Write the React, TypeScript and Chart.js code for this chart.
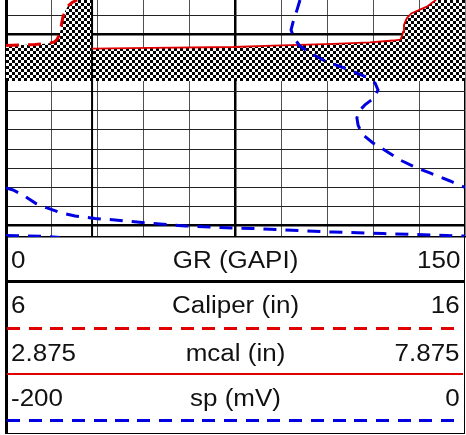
import React, { useEffect, useRef } from 'react';
import { Chart, registerables } from 'chart.js';

Chart.register(...registerables);

// ---------- scales ----------
const DEPTH_TOP = 998.2;
const DEPTH_BOTTOM = 1010.6;
const DEPTH_TICKS = [999, 1000, 1001, 1002, 1003, 1004, 1005, 1006, 1007, 1008, 1009, 1010];
const GR_MIN = 0;
const GR_MAX = 150;
const GR_TICKS = [15, 30, 45, 60, 75, 90, 105, 120, 135, 150];
const CAL_MIN = 6;
const CAL_MAX = 16;
const MCAL_MIN = 2.875;
const MCAL_MAX = 7.875;
const SP_MIN = -200;
const SP_MAX = 0;
const BIT_SIZE = 7.875;
const FILL_BOTTOM_DEPTH = 1002.44;

// ---------- curves ----------
const caliperValues = [6.0, 6.31, 6.63, 6.92, 7.05, 7.11, 7.16, 7.19, 7.21, 7.24, 7.29, 7.35, 7.44, 7.55];
const caliperDepths = [1000.58, 1000.55, 1000.53, 1000.48, 1000.4, 1000.27, 1000.03, 999.77, 999.46, 999.09, 998.78, 998.51, 998.33, 998.2];

const mcalValues = [3.81, 4.44, 5.35, 5.78, 6.44, 6.84, 7.09, 7.17, 7.19, 7.2, 7.21, 7.24, 7.29, 7.39, 7.46, 7.53, 7.56];
const mcalDepths = [1000.74, 1000.71, 1000.66, 1000.59, 1000.5, 1000.42, 1000.32, 1000.27, 1000.08, 999.86, 999.51, 999.16, 998.9, 998.69, 998.55, 998.29, 998.2];

const spValues = [-71.9, -73.2, -74.9, -75.8, -74.5, -71.9, -67.5, -61.0, -51.4, -43.1, -39.2, -37.9, -39.7, -43.6, -46.2, -47.1, -46.6, -44.9, -40.1, -34.4, -28.3, -21.8, -15.3, -6.5, 0];
const spDepths = [998.2, 998.72, 999.35, 999.77, 1000.19, 1000.61, 1000.97, 1001.39, 1001.81, 1002.23, 1002.54, 1002.91, 1003.33, 1003.69, 1004.01, 1004.37, 1004.74, 1005.21, 1005.68, 1006.1, 1006.57, 1006.94, 1007.25, 1007.67, 1008.01];

// sp wrapped onto the backup scale
const spWrap1Values = [-200, -196.9, -192.2, -186.9, -182.1, -176.5, -169.9, -161.2, -152.5, -142.9, -132.9, -122.0, -111.1, -101.1, -92.4, -79.3, -57.5, -35.7, -13.9, 0];
const spWrap1Depths = [1008.04, 1008.14, 1008.43, 1008.85, 1009.08, 1009.32, 1009.5, 1009.63, 1009.71, 1009.82, 1009.92, 1010.02, 1010.08, 1010.13, 1010.15, 1010.23, 1010.34, 1010.42, 1010.5, 1010.55];
const spWrap2Values = [-200, -183.0, -176.5];
const spWrap2Depths = [1010.52, 1010.57, 1010.63];

// ---------- header ----------
const curveNames = ['GR (GAPI)', 'Caliper (in)', 'mcal (in)', 'sp (mV)'];
const scaleLeft = ['0', '6', '2.875', '-200'];
const scaleRight = ['150', '16', '7.875', '0'];

const RED = '#e00000';
const BLUE = '#0000e0';

function pts(xs: number[], ys: number[]) {
  return xs.map((x, i) => ({ x, y: ys[i] }));
}
function toGR(v: number, min: number, max: number) {
  return ((v - min) / (max - min)) * (GR_MAX - GR_MIN) + GR_MIN;
}

function makeChecker(): CanvasPattern | string {
  const c = document.createElement('canvas');
  c.width = 6;
  c.height = 6;
  const g = c.getContext('2d');
  if (!g) return '#888';
  g.fillStyle = '#fff';
  g.fillRect(0, 0, 6, 6);
  g.fillStyle = '#000';
  g.fillRect(0, 0, 3, 3);
  g.fillRect(3, 3, 3, 3);
  const p = g.createPattern(c, 'repeat');
  return p || '#888';
}

export default function App() {
  const ref = useRef<HTMLCanvasElement | null>(null);

  useEffect(() => {
    if (!ref.current) return;
    const bitGR = toGR(BIT_SIZE, CAL_MIN, CAL_MAX);
    const fillPts = [
      { x: GR_MIN, y: FILL_BOTTOM_DEPTH },
      ...caliperValues.map((v, i) => ({ x: toGR(v, CAL_MIN, CAL_MAX), y: caliperDepths[i] })),
      { x: bitGR, y: DEPTH_TOP },
      { x: bitGR, y: mcalDepths[0] },
      ...mcalValues.map((v, i) => ({ x: toGR(v, MCAL_MIN, MCAL_MAX), y: mcalDepths[i] })),
      { x: GR_MAX, y: DEPTH_TOP },
      { x: GR_MAX, y: FILL_BOTTOM_DEPTH },
    ];

    const dashed = [13, 9];
    const chart = new Chart(ref.current, {
      type: 'line',
      data: {
        datasets: [
          {
            data: fillPts,
            xAxisID: 'x',
            yAxisID: 'y',
            borderWidth: 0,
            borderColor: 'rgba(0,0,0,0)',
            backgroundColor: makeChecker() as any,
            fill: 'shape',
            order: 10,
            clip: 0,
          },
          {
            data: [{ x: BIT_SIZE, y: DEPTH_TOP }, { x: BIT_SIZE, y: DEPTH_BOTTOM }],
            xAxisID: 'xCal',
            yAxisID: 'y',
            borderColor: '#000',
            borderWidth: 2,
            order: 5,
            clip: 0,
          },
          {
            data: pts(caliperValues, caliperDepths),
            xAxisID: 'xCal',
            yAxisID: 'y',
            borderColor: RED,
            borderWidth: 3,
            borderDash: dashed,
            order: 2,
            clip: 0,
          },
          {
            data: pts(mcalValues, mcalDepths),
            xAxisID: 'xMcal',
            yAxisID: 'y',
            borderColor: RED,
            borderWidth: 1.8,
            order: 2,
            clip: 0,
          },
          {
            data: pts(spValues, spDepths),
            xAxisID: 'xSp',
            yAxisID: 'y',
            borderColor: BLUE,
            borderWidth: 3,
            borderDash: dashed,
            order: 1,
            clip: 0,
          },
          {
            data: pts(spWrap1Values, spWrap1Depths),
            xAxisID: 'xSp',
            yAxisID: 'y',
            borderColor: BLUE,
            borderWidth: 3,
            borderDash: dashed,
            order: 1,
            clip: 0,
          },
          {
            data: pts(spWrap2Values, spWrap2Depths),
            xAxisID: 'xSp',
            yAxisID: 'y',
            borderColor: BLUE,
            borderWidth: 3,
            borderDash: dashed,
            order: 1,
            clip: 0,
          },
        ] as any,
      },
      options: {
        responsive: false,
        animation: false,
        events: [],
        layout: { padding: { left: 6, right: 1, top: 0, bottom: 1 } },
        elements: { point: { radius: 0 }, line: { tension: 0 } },
        plugins: { legend: { display: false }, tooltip: { enabled: false }, title: { display: false } },
        scales: {
          x: {
            type: 'linear',
            position: 'bottom',
            min: GR_MIN,
            max: GR_MAX,
            ticks: { display: false },
            afterBuildTicks: (s: any) => {
              s.ticks = GR_TICKS.map((v) => ({ value: v }));
            },
            grid: {
              drawTicks: false,
              color: (c: any) => (c.tick && (c.tick.value === 75 || c.tick.value === 150) ? '#000' : '#505050'),
              lineWidth: (c: any) => (c.tick && c.tick.value === 75 ? 2.5 : c.tick && c.tick.value === 150 ? 1.5 : 1),
            },
            border: { display: true, color: '#000', width: 1.5 },
          },
          y: {
            type: 'linear',
            position: 'left',
            reverse: true,
            min: DEPTH_TOP,
            max: DEPTH_BOTTOM,
            ticks: { display: false },
            afterBuildTicks: (s: any) => {
              s.ticks = DEPTH_TICKS.map((v) => ({ value: v }));
            },
            grid: {
              drawTicks: false,
              color: (c: any) => (c.tick && c.tick.value % 10 === 0 ? '#000' : '#222'),
              lineWidth: (c: any) => (c.tick && c.tick.value % 10 === 0 ? 2.5 : 1),
            },
            border: { display: true, color: '#000', width: 3 },
          },
          xCal: { type: 'linear', axis: 'x', display: false, min: CAL_MIN, max: CAL_MAX },
          xMcal: { type: 'linear', axis: 'x', display: false, min: MCAL_MIN, max: MCAL_MAX },
          xSp: { type: 'linear', axis: 'x', display: false, min: SP_MIN, max: SP_MAX },
        } as any,
      },
    });
    return () => chart.destroy();
  }, []);

  const font = '"Liberation Sans", Arial, Helvetica, sans-serif';
  const rowTops = [248.5, 293.8, 341.5, 387.2];
  const textBase: React.CSSProperties = {
    position: 'absolute',
    fontFamily: font,
    fontSize: 23,
    lineHeight: '23px',
    color: '#111',
    whiteSpace: 'nowrap',
  };
  const dash = (color: string) =>
    `repeating-linear-gradient(to right, ${color} 0px, ${color} 13px, transparent 13px, transparent 21.7px)`;

  return (
    <div style={{ position: 'absolute', left: 0, top: 0, width: 466, height: 435, background: '#fff', overflow: 'hidden' }}>
      <canvas ref={ref} width={466} height={238} style={{ position: 'absolute', left: 0, top: 0, width: 466, height: 238 }} />
      {/* header frame */}
      <div style={{ position: 'absolute', left: 4.5, top: 236, width: 3, height: 198, background: '#000' }} />
      <div style={{ position: 'absolute', left: 463.5, top: 236, width: 1.5, height: 198, background: '#000' }} />
      <div style={{ position: 'absolute', left: 5, top: 279.5, width: 460, height: 3, background: '#000' }} />
      <div style={{ position: 'absolute', left: 5, top: 432.5, width: 460, height: 1.5, background: '#000' }} />
      {/* legend samples */}
      <div style={{ position: 'absolute', left: 7, top: 326.5, width: 456, height: 3, backgroundImage: dash(RED) }} />
      <div style={{ position: 'absolute', left: 7, top: 373, width: 456, height: 2, background: RED }} />
      <div style={{ position: 'absolute', left: 7, top: 418.5, width: 456, height: 3, backgroundImage: dash(BLUE) }} />
      {curveNames.map((name, i) => (
        <React.Fragment key={name}>
          <span style={{ ...textBase, left: 11, top: rowTops[i], transform: 'scaleX(1.13)', transformOrigin: 'left center' }}>
            {scaleLeft[i]}
          </span>
          <span
            style={{
              ...textBase,
              left: 0,
              width: 471,
              textAlign: 'center',
              top: rowTops[i],
              transform: 'scaleX(1.13)',
              transformOrigin: '235.5px center',
            }}
          >
            {name}
          </span>
          <span style={{ ...textBase, right: 6, top: rowTops[i], transform: 'scaleX(1.13)', transformOrigin: 'right center' }}>
            {scaleRight[i]}
          </span>
        </React.Fragment>
      ))}
    </div>
  );
}
